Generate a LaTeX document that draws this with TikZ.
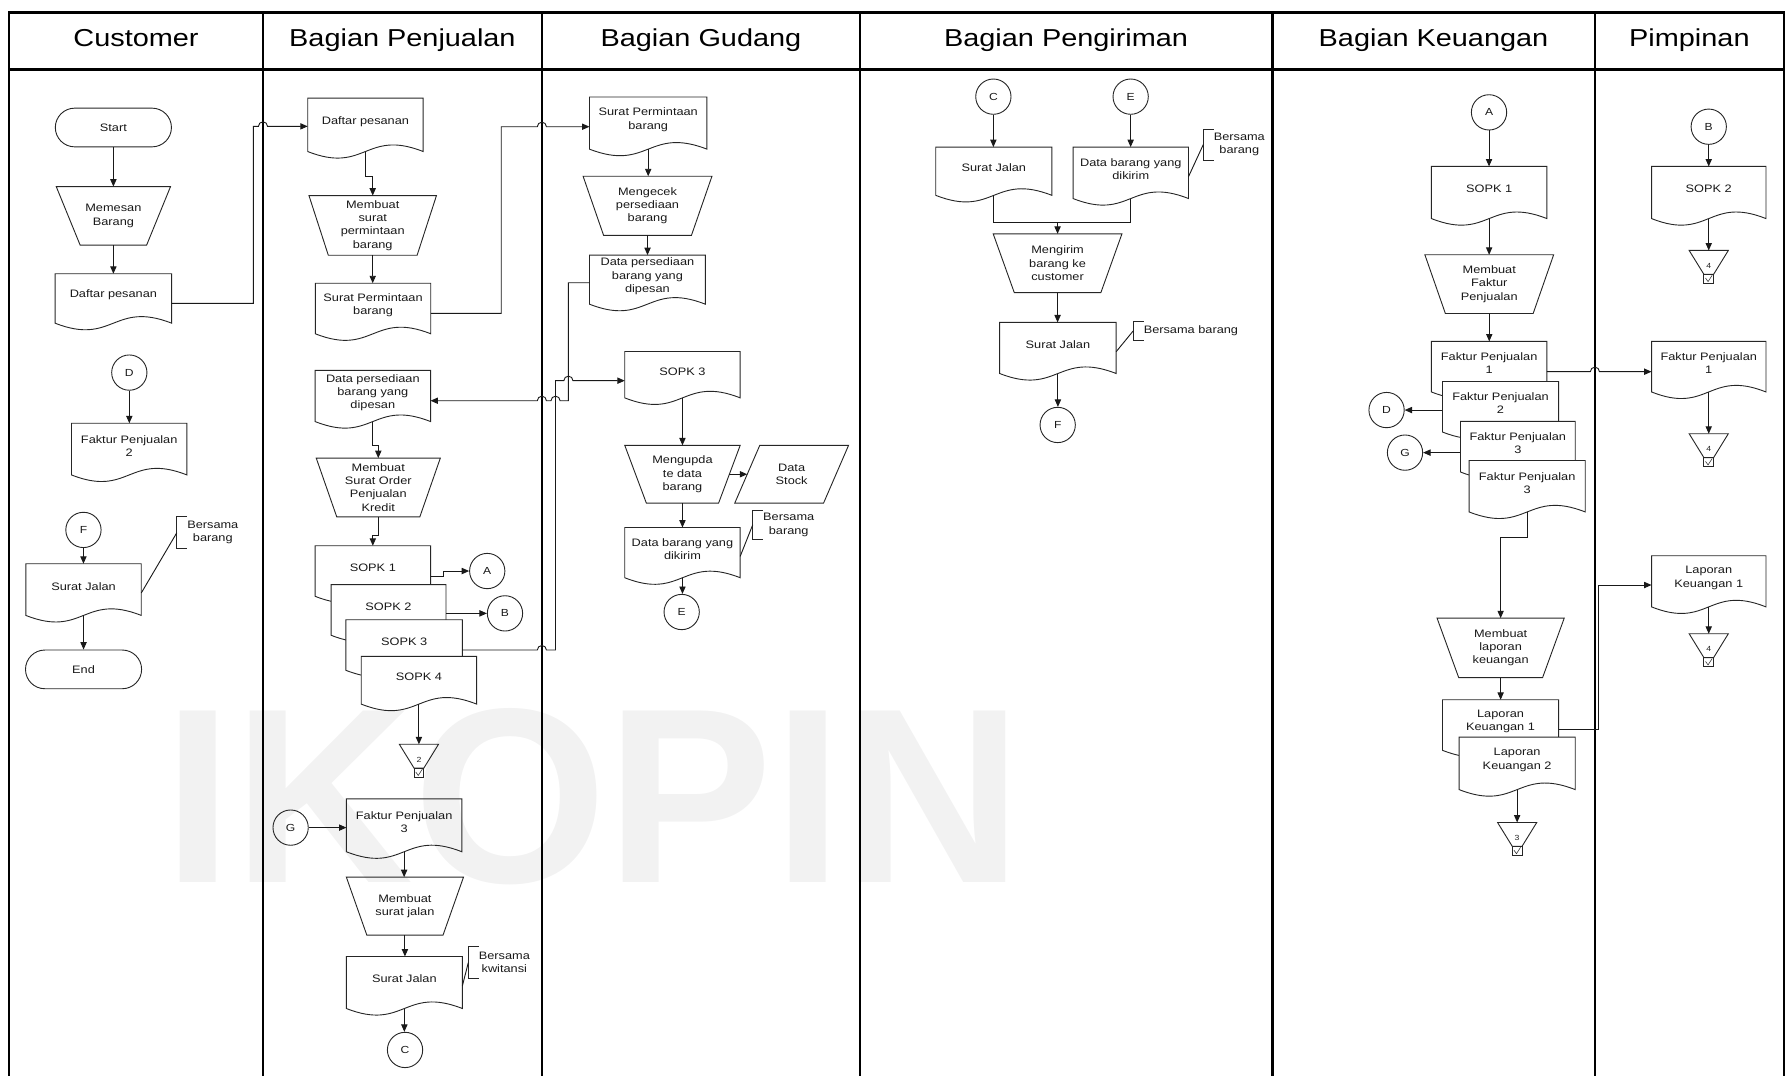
\documentclass[tikz,border=0pt]{standalone}
\usepackage{fontspec}
\setmainfont{Liberation Sans}[FakeStretch=1.18]
\newfontfamily\wmfont{Liberation Sans}
\usetikzlibrary{arrows.meta,calc}
\pgfdeclarelayer{bg}
\pgfsetlayers{bg,main}

\tikzset{
  frame/.style={draw=black, line width=2.4pt},
  shp/.style={draw=black!85, line width=0.8pt},
  ln/.style={draw=black!90, line width=0.8pt},
  arr/.style={ln, -{Triangle[length=6.5pt,width=5.5pt]}},
  txt/.style={font=\fontsize{9.5}{11.6}\selectfont, text=black!90, align=center},
  docbox/.style={txt, rectangle, inner sep=0pt},
  tbox/.style={txt, rectangle, inner sep=0pt},
  abox/.style={rectangle, inner sep=0pt, minimum width=34, minimum height=29},
  conn/.style={txt, circle, shp, minimum size=31, inner sep=0pt, font=\fontsize{9}{10}\selectfont},
  term/.style={txt, rectangle, shp, rounded corners=17pt, minimum width=102, minimum height=34, inner sep=0pt},
  hdr/.style={font=\fontsize{21.5}{24}\selectfont, text=black, inner sep=0pt, anchor=base},
  annotbox/.style={txt, rectangle, inner xsep=9pt, inner ysep=0pt, anchor=west},
  wmark/.style={font=\wmfont\bfseries\fontsize{219}{219}\selectfont, text=black!5, anchor=base, inner sep=0pt},
}

% document shape: name, cx, top, width, height(top to corner baseline), text
\newcommand\docn[7][]{%
  \node[docbox, minimum width=#5, minimum height=#6-6] (#2) at (#3,{#4+(#6-6)/2}) {#7};
  \coordinate (#2-b) at ($(#2.south)+(0,6)$);
  \begin{pgfonlayer}{bg}
  \draw[shp,#1] (#2.north west) -- (#2.north east) -- (#2-b -| #2.east)
     .. controls ($(#2-b)+(0,-20)$) and ($(#2-b)+(0,20)$) .. (#2-b -| #2.west) -- cycle;
  \end{pgfonlayer}}

% manual operation: name, cx, cy, w, h, inset, text
\newcommand\trapn[7]{%
  \node[tbox, minimum width=#4, minimum height=#5] (#1) at (#2,#3) {#7};
  \begin{pgfonlayer}{bg}
  \draw[shp] (#1.north west) -- (#1.north east) -- ($(#1.south east)+(-#6,0)$) -- ($(#1.south west)+(#6,0)$) -- cycle;
  \end{pgfonlayer}}

% archive: name, cx, top, number
\newcommand\archn[4]{%
  \node[abox] (#1) at (#2,{#3+14.5}) {};
  \draw[shp] (#1.north west) -- (#1.north east) -- ($(#1.north)+(4.25,21)$) -- ($(#1.north)+(-4.25,21)$) -- cycle;
  \draw[shp] ($(#1.north)+(-4.25,21)$) rectangle ($(#1.north)+(4.25,29)$);
  \draw[draw=black!80, line width=0.5pt] ($(#1.north)+(-2.8,24.3)$) -- ($(#1.north)+(-0.6,27.4)$) -- ($(#1.north)+(3,21.8)$);
  \node[font=\fontsize{6.5}{7}\selectfont, text=black!85, inner sep=0pt] (#1-n) at ($(#1.north)+(0,13.5)$) {#4};}

% annotation: name, x, y, height, text
\newcommand\annot[5]{%
  \node[annotbox, minimum height=#4] (#1) at (#2,#3) {#5};
  \draw[shp] ($(#1.north west)+(9,0)$) -- (#1.north west) -- (#1.south west) -- ($(#1.south west)+(9,0)$);}

\begin{document}
\begin{tikzpicture}[x=1pt,y=-1pt]
\useasboundingbox (0,0) rectangle (1568,945);

\begin{pgfonlayer}{bg}
\node[wmark] (wm) at (521,775) {IKOPIN};
\end{pgfonlayer}

% frame
\draw[frame] (8,945) -- (8,11) -- (1567,11) -- (1567,945);
\draw[frame] (8,61) -- (1567,61);
\foreach \xx in {231,476,755.5,1117.5,1401} \draw[frame] (\xx,11) -- (\xx,945);

\node[hdr] (h1) at (119.5,41) {Customer};
\node[hdr] (h2) at (353.5,41) {Bagian Penjualan};
\node[hdr] (h3) at (615.75,41) {Bagian Gudang};
\node[hdr] (h4) at (936.5,41) {Bagian Pengiriman};
\node[hdr] (h5) at (1259.25,41) {Bagian Keuangan};
\node[hdr] (h6) at (1484,41) {Pimpinan};

% ---------------- Customer
\node[term] (start) at (99.6,112) {Start};
\trapn{memesan}{99.6}{189.6}{100}{51}{21}{Memesan\\Barang}
\docn{dpc}{99.6}{240.7}{102}{43}{Daftar pesanan}
\node[conn] (cD) at (113.6,327.3) {D};
\docn{fp2c}{113.5}{372}{101}{45}{Faktur Penjualan\\2}
\node[conn] (cF) at (73.3,465.5) {F};
\docn{sjc}{73.4}{495.4}{101}{45}{Surat Jalan}
\node[term] (endn) at (73.4,588) {End};
\annot{ann1}{155.3}{468}{28}{Bersama\\barang}

% ---------------- Penjualan
\docn{dp2}{321}{86.4}{101}{46.5}{Daftar pesanan}
\trapn{msp}{327.4}{198}{111.6}{52}{17}{Membuat\\surat\\permintaan\\barang}
\docn{spb}{327.7}{249}{101}{44}{Surat Permintaan\\barang}
\docn{dpb1}{327.5}{325.6}{101}{44.5}{Data persediaan\\barang yang\\dipesan}
\trapn{mso}{332.3}{428.2}{108.6}{51.2}{18}{Membuat\\Surat Order\\Penjualan\\Kredit}
\docn{s1}{327.5}{479.6}{101}{44}{SOPK 1}
\docn[fill=white]{s2}{341.3}{513.8}{100.6}{44}{SOPK 2}
\docn[fill=white]{s3}{355}{544.6}{102}{44}{SOPK 3}
\docn[fill=white]{s4}{368}{576.8}{101}{41.5}{SOPK 4}
\node[conn] (cA) at (428,501.6) {A};
\node[conn] (cB) at (443.6,538.8) {B};
\archn{a2}{368}{654}{2}
\node[conn] (cG) at (255.3,727) {G};
\docn{fp3p}{355}{702}{101}{46}{Faktur Penjualan\\3}
\trapn{msj}{355.7}{796}{102.5}{50.6}{18}{Membuat\\surat jalan}
\docn{sj3}{355.2}{840.4}{101.5}{45.3}{Surat Jalan}
\annot{ann2}{411.4}{845.5}{28}{Bersama\\kwitansi}
\node[conn] (cC) at (355.8,922.3) {C};

% ---------------- Gudang
\docn{spb2}{569.4}{85.4}{102.8}{45.4}{Surat Permintaan\\barang}
\trapn{mpb}{568.8}{180.75}{112.8}{51.5}{18}{Mengecek\\persediaan\\barang}
\docn{dpb2}{568.7}{224.3}{101.3}{42.7}{Data persediaan\\barang yang\\dipesan}
\docn{sopk3g}{599.5}{309}{101}{40.3}{SOPK 3}
\trapn{mdb}{599.5}{416.6}{101}{50.4}{19}{Mengupda\\te data\\barang}
\node[tbox, minimum width=99.6, minimum height=50.4] (dstock) at (695.4,416.6) {Data\\Stock};
\begin{pgfonlayer}{bg}
\draw[shp] ($(dstock.north west)+(22,0)$) -- (dstock.north east) -- ($(dstock.south east)+(-22,0)$) -- (dstock.south west) -- cycle;
\end{pgfonlayer}
\docn{dbk}{599.5}{463.6}{101}{43.7}{Data barang yang\\dikirim}
\annot{ann3}{661.2}{461}{25}{Bersama\\barang}
\node[conn] (cE) at (598.8,537.6) {E};

% ---------------- Pengiriman
\node[conn] (cC2) at (872.6,84.9) {C};
\node[conn] (cE2) at (993.2,84.9) {E};
\docn{sj1}{873}{129.4}{101.6}{42}{Surat Jalan}
\docn{dbk2}{993.3}{129.4}{101}{44.8}{Data barang yang\\dikirim}
\annot{ann4}{1057}{127}{27}{Bersama\\barang}
\coordinate (m1) at (929,195.6);
\trapn{mbk}{929}{231.2}{112.7}{51.2}{18.5}{Mengirim\\barang ke\\customer}
\docn{sj2}{929.3}{283.4}{101.9}{44.5}{Surat Jalan}
\annot{ann5}{995.5}{290.6}{16}{Bersama barang}
\node[conn] (cF2) at (929.1,373.3) {F};

% ---------------- Keuangan
\node[conn] (cA2) at (1308,98.7) {A};
\docn{sopk1k}{1308.1}{146.4}{101}{45.4}{SOPK 1}
\trapn{mfp}{1308.2}{249.6}{112.7}{51.2}{18}{Membuat\\Faktur\\Penjualan}
\docn{fp1}{1308.1}{300.1}{101}{44}{Faktur Penjualan\\1}
\docn[fill=white]{fp2}{1318.1}{335.3}{101.6}{44}{Faktur Penjualan\\2}
\docn[fill=white]{fp3}{1333.3}{370.4}{100.4}{44}{Faktur Penjualan\\3}
\docn[fill=white]{fp3b}{1341.5}{404.7}{101.6}{44.8}{Faktur Penjualan\\3}
\node[conn] (cD2) at (1218,360.2) {D};
\node[conn] (cG2) at (1234.2,397.6) {G};
\trapn{mlk}{1318.2}{569.1}{111.3}{51.8}{19}{Membuat\\laporan\\keuangan}
\docn{lk1}{1318.1}{614.9}{101.6}{44}{Laporan\\Keuangan 1}
\docn[fill=white]{lk2}{1332.7}{647.7}{101.6}{45.7}{Laporan\\Keuangan 2}
\archn{a3}{1332.7}{722.7}{3}

% ---------------- Pimpinan
\node[conn] (cB2) at (1501,111.3) {B};
\docn{sopk2p}{1501}{146.4}{100.1}{45.4}{SOPK 2}
\archn{a4a}{1501}{220.2}{4}
\docn{fp1p}{1501}{300.1}{100.1}{44}{Faktur Penjualan\\1}
\archn{a4b}{1501}{381.2}{4}
\docn{lk1p}{1501}{488.4}{100.1}{44.5}{Laporan\\Keuangan 1}
\archn{a4c}{1501}{556.9}{4}

% ================= connectors
% Customer
\draw[arr] (start.south) -- (memesan.north);
\draw[arr] (memesan.south) -- (dpc.north);
\draw[arr] (cD.south) -- (cD.south |- fp2c.north);
\draw[arr] (cF.south) -- (cF.south |- sjc.north);
\draw[arr] (sjc-b) -- (sjc-b |- endn.north);
\draw[ln] (ann1.west) -- ($(sjc.east)+(0,6)$);
\draw[arr] ($(dpc.east)+(0,7.3)$) -- (222.5,266.5) -- (222.5,111) -- (227,111) arc[start angle=180,end angle=360,radius=4] -- ($(dp2.west)+(0,4.35)$);

% Penjualan
\draw[arr] (dp2-b) |- (327.4,154.6) -- (msp.north);
\draw[arr] (msp.south) -- (msp.south |- spb.north);
\draw[arr] ($(spb.east)+(0,7.3)$) -- (440.3,275.3) -- (440.3,111.3) -- (472,111.3) arc[start angle=180,end angle=360,radius=4] -- ($(spb2.west)+(0,6.2)$);
\draw[arr] ($(dpb2.west)+(0,5.75)$) -- (499.3,248.4) -- (499.3,352) -- (492,352) arc[start angle=0,end angle=-180,radius=4] -- (480,352) arc[start angle=0,end angle=-180,radius=4] -- ($(dpb1.east)+(0,7.15)$);
\draw[arr] (dpb1-b) |- (332.3,390.9) -- (mso.north);
\draw[arr] (mso.south) |- (327.5,470) -- (s1.north);
\draw[arr] ($(s1.east)+(0,7.4)$) -- (389.4,506) |- (cA.west);
\draw[arr] (s2.east |- cB.west) -- (cB.west);
\draw[arr] ($(s3.east)+(0,7.4)$) -- (472,571) arc[start angle=180,end angle=360,radius=4] -- (488,571) -- (488,334.4) -- (495.3,334.4) arc[start angle=180,end angle=360,radius=4] -- ($(sopk3g.west)+(0,8.25)$);
\draw[arr] (s4-b) -- (s4-b |- a2.north);
\draw[arr] (cG.east) -- (cG.east -| fp3p.west);
\draw[arr] (fp3p-b) -- (fp3p-b |- msj.north);
\draw[arr] (msj.south) -- (msj.south |- sj3.north);
\draw[ln] (ann2.west) -- ($(sj3.east)+(0,6)$);
\draw[arr] (sj3-b) -- (sj3-b |- cC.north);

% Gudang
\draw[arr] (spb2-b) -- (spb2-b |- mpb.north);
\draw[arr] (mpb.south) -- (mpb.south |- dpb2.north);
\draw[arr] (sopk3g-b) -- (mdb.north);
\draw[arr] ($(mdb.east)+(-9.5,0)$) -- ($(dstock.west)+(11,0)$);
\draw[arr] (mdb.south) -- (dbk.north);
\draw[ln] (ann3.west) -- ($(dbk.east)+(0,6.3)$);
\draw[arr] (dbk-b) -- (dbk-b |- cE.north);

% Pengiriman
\draw[arr] (cC2.south) -- (cC2.south |- sj1.north);
\draw[arr] (cE2.south) -- (cE2.south |- dbk2.north);
\draw[ln] (ann4.west) -- ($(dbk2.east)+(0,6.4)$);
\draw[ln] (sj1-b) |- (m1);
\draw[ln] (dbk2-b) |- (m1);
\draw[arr] (m1) -- (mbk.north);
\draw[arr] (mbk.south) -- (mbk.south |- sj2.north);
\draw[ln] (ann5.west) -- ($(sj2.east)+(0,6.3)$);
\draw[arr] (sj2-b) -- (sj2-b |- cF2.north);

% Keuangan
\draw[arr] (cA2.south) -- (cA2.south |- sopk1k.north);
\draw[arr] (sopk1k-b) -- (sopk1k-b |- mfp.north);
\draw[arr] (mfp.south) -- (mfp.south |- fp1.north);
\draw[arr] (fp2.west |- cD2.east) -- (cD2.east);
\draw[arr] (fp3.west |- cG2.east) -- (cG2.east);
\draw[arr] ($(fp1.east)+(0,7.4)$) -- (1397,326.5) arc[start angle=180,end angle=360,radius=4] -- ($(fp1p.west)+(0,7.4)$);
\draw[arr] (fp3b-b) -- ++(0,22.5) -| (mlk.north);
\draw[arr] (mlk.south) -- (mlk.south |- lk1.north);
\draw[arr] ($(lk1.east)+(0,6.8)$) -- (1404,640.7) |- ($(lk1p.west)+(0,6.25)$);
\draw[arr] (lk2-b) -- (lk2-b |- a3.north);

% Pimpinan
\draw[arr] (cB2.south) -- (cB2.south |- sopk2p.north);
\draw[arr] (sopk2p-b) -- (sopk2p-b |- a4a.north);
\draw[arr] (fp1p-b) -- (fp1p-b |- a4b.north);
\draw[arr] (lk1p-b) -- (lk1p-b |- a4c.north);
\end{tikzpicture}
\end{document}
